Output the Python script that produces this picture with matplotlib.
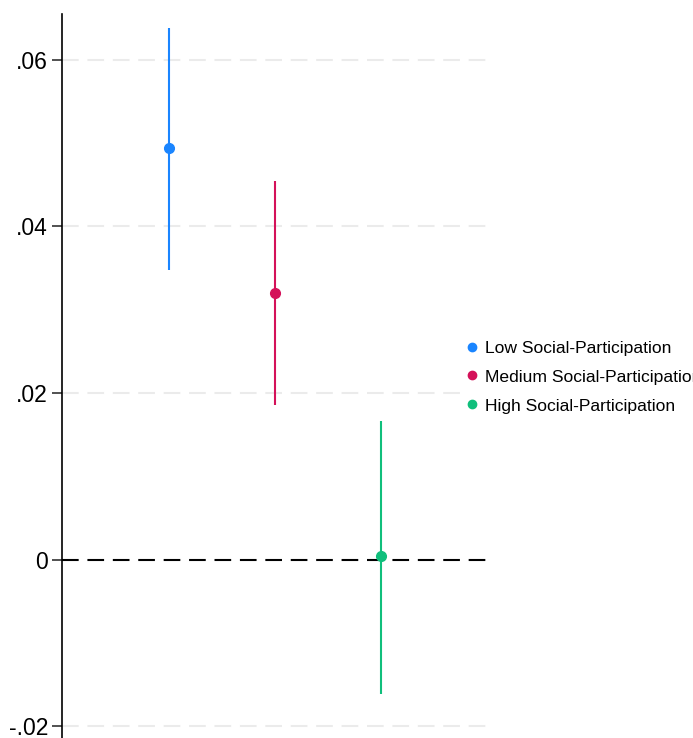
import numpy as np
import matplotlib.pyplot as plt
from matplotlib.lines import Line2D

plt.rcParams['font.family'] = ['Liberation Sans', 'DejaVu Sans']

# coefficient estimates with 95% CIs
groups = ['Low Social-Participation', 'Medium Social-Participation', 'High Social-Participation']
coef = [0.0494, 0.0320, 0.0004]
ci_low = [0.0348, 0.0186, -0.0161]
ci_high = [0.0638, 0.0454, 0.0167]
colors = ['#1a85ff', '#d41159', '#10bf7c']
yticks = [-0.02, 0, 0.02, 0.04, 0.06]
ylabels = ['-.02', '0', '.02', '.04', '.06']

fig = plt.figure(figsize=(6.93, 7.38), dpi=100)
ax = fig.add_axes([62 / 693, 0, (488 - 62) / 693, 1 - 14 / 738])

xpos = np.arange(1, len(groups) + 1)
for x, c, lo, hi, col in zip(xpos, coef, ci_low, ci_high, colors):
    ax.plot([x, x], [lo, hi], color=col, lw=1.5, solid_capstyle='butt', zorder=3)
    ax.plot(x, c, 'o', color=col, markersize=7, zorder=4)

# same dash pattern for the zero line and the grid
dash = (8, 4.2)
ax.axhline(0, color='black', lw=1.5, dashes=dash, zorder=2)
for t in yticks:
    if t != 0:
        ax.axhline(t, color='#ebebeb', lw=1.5, dashes=dash, zorder=1)

ax.set_xlim(0, 4)
ax.set_ylim(-0.0214, 0.0655)
ax.set_yticks(yticks)
ax.set_yticklabels(ylabels, fontsize=16.5)
ax.set_xticks([])
ax.tick_params(axis='y', length=7, width=1.2, color='#333333', pad=3)
for s in ['top', 'right', 'bottom']:
    ax.spines[s].set_visible(False)
ax.spines['left'].set_linewidth(1.2)

handles = [Line2D([], [], ls='none', marker='o', color=col, markersize=6) for col in colors]
leg = fig.legend(handles, groups, loc='center left', bbox_to_anchor=(462 / 693, 1 - 377 / 738),
                 fontsize=12.6, frameon=True, handlelength=0.55, handletextpad=0.45,
                 labelspacing=0.78, borderpad=0.3, borderaxespad=0)
leg.get_frame().set_edgecolor('white')
leg.get_frame().set_facecolor('white')
leg.get_frame().set_alpha(1)

fig.savefig('out.png', dpi=100, facecolor='white')
